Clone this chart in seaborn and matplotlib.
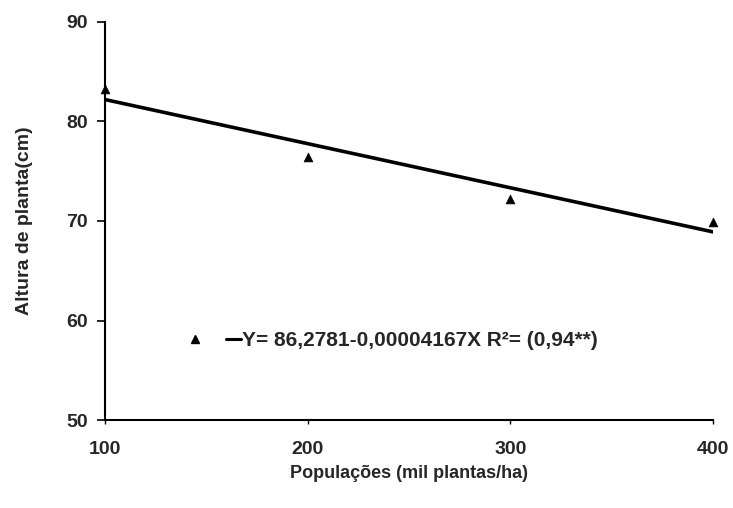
import matplotlib
matplotlib.use("Agg")
import matplotlib.pyplot as plt
import seaborn as sns
from matplotlib.lines import Line2D

# observed means
populacao = [100, 200, 300, 400]
altura = [83.3, 76.4, 72.2, 69.9]

# fitted line end points
fit_x = [100, 400]
fit_y = [82.2, 68.9]

eq_label = "Y= 86,2781-0,00004167X R²= (0,94**)"

sns.set_style("white")
plt.rcParams['font.family'] = ['Liberation Sans', 'DejaVu Sans']

fig = plt.figure(figsize=(7.33, 5.08), dpi=100)
ax = fig.add_axes([0.143, 0.173, 0.830, 0.784])

sns.scatterplot(x=populacao, y=altura, marker="^", color="black", s=40,
                edgecolor="black", ax=ax, zorder=3, clip_on=False)
sns.lineplot(x=fit_x, y=fit_y, color="black", linewidth=2.6, ax=ax)

ax.set_xlim(100, 400)
ax.set_ylim(50, 90)
ax.set_xticks([100, 200, 300, 400])
ax.set_yticks([50, 60, 70, 80, 90])
ax.tick_params(axis="y", labelsize=14, direction="out", length=6, width=1.2,
               color="black", left=True, pad=6)
ax.tick_params(axis="x", labelsize=14, direction="out", length=3, width=1,
               color="black", bottom=True, pad=12)
for lab in ax.get_xticklabels() + ax.get_yticklabels():
    lab.set_fontweight("bold")

ax.set_xlabel("Populações (mil plantas/ha)", fontsize=13, fontweight="bold", labelpad=5)
ax.set_ylabel("Altura de planta(cm)", fontsize=14, fontweight="bold", labelpad=24)

sns.despine(ax=ax)
for side in ["left", "bottom"]:
    ax.spines[side].set_color("black")
    ax.spines[side].set_linewidth(1.5)

handles = [Line2D([], [], marker="^", color="black", linestyle="none", markersize=6),
           Line2D([], [], color="black", linewidth=2.2)]
leg = ax.legend(handles, ["", eq_label], ncol=2, frameon=False,
                loc="center left", bbox_to_anchor=(0.105, 0.2),
                handlelength=0.7, handletextpad=0.05, columnspacing=1.1,
                prop={"size": 15, "weight": "bold"})

fig.savefig("out.png", dpi=100)
